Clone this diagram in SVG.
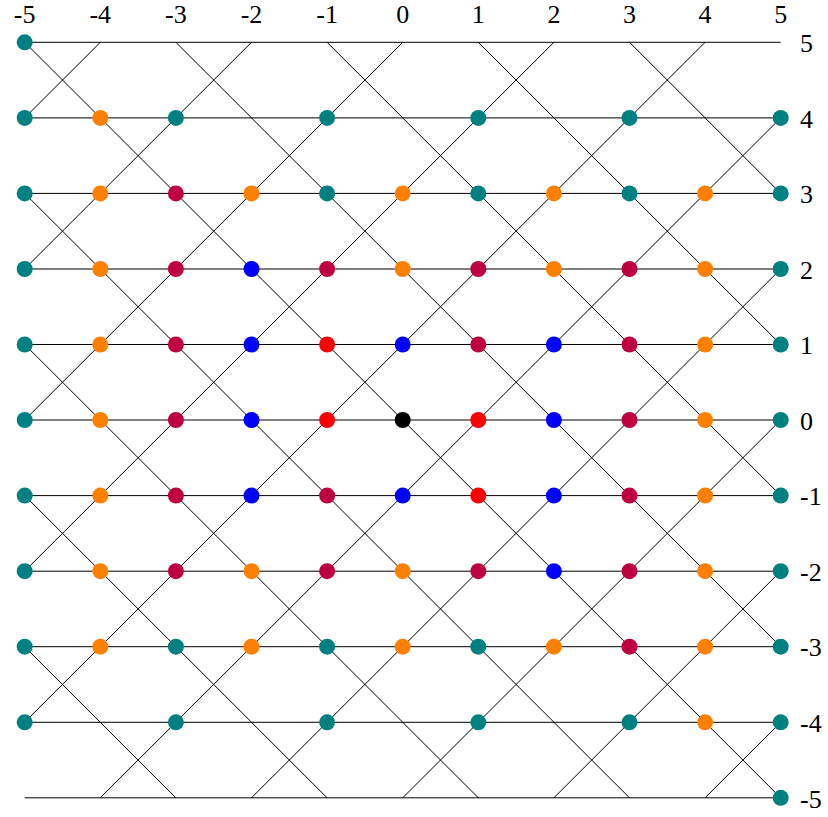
<svg xmlns="http://www.w3.org/2000/svg" xmlns:xlink="http://www.w3.org/1999/xlink" width="828" height="817" viewBox="0 0 828 817">
<style>
.ln{stroke:#000;stroke-width:1;fill:none}
.t{fill:#008080}.o{fill:#FF8000}.c{fill:#BF0040}.b{fill:#0000FF}.r{fill:#FF0000}.k{fill:#000}
text{font-family:"Liberation Serif","DejaVu Serif",serif;font-size:26px;fill:#000}
.top{text-anchor:middle}
</style>
<defs>
<path id="x" d="M0 0L75.6 75.5M75.6 0L0 75.5"/>
<circle id="d" r="8"/>
</defs>
<rect width="828" height="817" fill="#fff"/>
<g id="connectors" class="ln">
<path d="M24.7 42.3H780.7M24.7 117.9H780.7M24.7 193.4H780.7M24.7 269H780.7M24.7 344.5H780.7M24.7 420H780.7M24.7 495.6H780.7M24.7 571.2H780.7M24.7 646.7H780.7M24.7 722.3H780.7M24.7 797.8H780.7"/>
<use href="#x" x="24.7" y="42.3"/><use href="#x" x="175.9" y="42.3"/><use href="#x" x="327.1" y="42.3"/><use href="#x" x="478.3" y="42.3"/><use href="#x" x="629.5" y="42.3"/>
<use href="#x" x="100.3" y="117.9"/><use href="#x" x="251.5" y="117.9"/><use href="#x" x="402.7" y="117.9"/><use href="#x" x="553.9" y="117.9"/><use href="#x" x="705.1" y="117.9"/>
<use href="#x" x="24.7" y="193.4"/><use href="#x" x="175.9" y="193.4"/><use href="#x" x="327.1" y="193.4"/><use href="#x" x="478.3" y="193.4"/><use href="#x" x="629.5" y="193.4"/>
<use href="#x" x="100.3" y="269"/><use href="#x" x="251.5" y="269"/><use href="#x" x="402.7" y="269"/><use href="#x" x="553.9" y="269"/><use href="#x" x="705.1" y="269"/>
<use href="#x" x="24.7" y="344.5"/><use href="#x" x="175.9" y="344.5"/><use href="#x" x="327.1" y="344.5"/><use href="#x" x="478.3" y="344.5"/><use href="#x" x="629.5" y="344.5"/>
<use href="#x" x="100.3" y="420"/><use href="#x" x="251.5" y="420"/><use href="#x" x="402.7" y="420"/><use href="#x" x="553.9" y="420"/><use href="#x" x="705.1" y="420"/>
<use href="#x" x="24.7" y="495.6"/><use href="#x" x="175.9" y="495.6"/><use href="#x" x="327.1" y="495.6"/><use href="#x" x="478.3" y="495.6"/><use href="#x" x="629.5" y="495.6"/>
<use href="#x" x="100.3" y="571.2"/><use href="#x" x="251.5" y="571.2"/><use href="#x" x="402.7" y="571.2"/><use href="#x" x="553.9" y="571.2"/><use href="#x" x="705.1" y="571.2"/>
<use href="#x" x="24.7" y="646.7"/><use href="#x" x="175.9" y="646.7"/><use href="#x" x="327.1" y="646.7"/><use href="#x" x="478.3" y="646.7"/><use href="#x" x="629.5" y="646.7"/>
<use href="#x" x="100.3" y="722.3"/><use href="#x" x="251.5" y="722.3"/><use href="#x" x="402.7" y="722.3"/><use href="#x" x="553.9" y="722.3"/><use href="#x" x="705.1" y="722.3"/>
</g>
<g id="labels">
<text class="top" x="24.7" y="23">-5</text><text class="top" x="100.3" y="23">-4</text><text class="top" x="175.9" y="23">-3</text><text class="top" x="251.5" y="23">-2</text><text class="top" x="327.1" y="23">-1</text><text class="top" x="402.7" y="23">0</text><text class="top" x="478.3" y="23">1</text><text class="top" x="553.9" y="23">2</text><text class="top" x="629.5" y="23">3</text><text class="top" x="705.1" y="23">4</text><text class="top" x="780.7" y="23">5</text>
<text x="800" y="52">5</text><text x="800" y="127.6">4</text><text x="800" y="203.1">3</text><text x="800" y="278.7">2</text><text x="800" y="354.2">1</text><text x="800" y="429.7">0</text><text x="800" y="505.3">-1</text><text x="800" y="580.9">-2</text><text x="800" y="656.4">-3</text><text x="800" y="732">-4</text><text x="800" y="807.5">-5</text>
</g>
<g id="nodes">
<g id="n-5_5"><use href="#d" class="t" x="24.7" y="42.3"/></g>
<g id="n-5_4"><use href="#d" class="t" x="24.7" y="117.9"/></g>
<g id="n-4_4"><use href="#d" class="o" x="100.3" y="117.9"/></g>
<g id="n-3_4"><use href="#d" class="t" x="175.9" y="117.9"/></g>
<g id="n-1_4"><use href="#d" class="t" x="327.1" y="117.9"/></g>
<g id="n1_4"><use href="#d" class="t" x="478.3" y="117.9"/></g>
<g id="n3_4"><use href="#d" class="t" x="629.5" y="117.9"/></g>
<g id="n5_4"><use href="#d" class="t" x="780.7" y="117.9"/></g>
<g id="n-5_3"><use href="#d" class="t" x="24.7" y="193.4"/></g>
<g id="n-4_3"><use href="#d" class="o" x="100.3" y="193.4"/></g>
<g id="n-3_3"><use href="#d" class="c" x="175.9" y="193.4"/></g>
<g id="n-2_3"><use href="#d" class="o" x="251.5" y="193.4"/></g>
<g id="n-1_3"><use href="#d" class="t" x="327.1" y="193.4"/></g>
<g id="n0_3"><use href="#d" class="o" x="402.7" y="193.4"/></g>
<g id="n1_3"><use href="#d" class="t" x="478.3" y="193.4"/></g>
<g id="n2_3"><use href="#d" class="o" x="553.9" y="193.4"/></g>
<g id="n3_3"><use href="#d" class="t" x="629.5" y="193.4"/></g>
<g id="n4_3"><use href="#d" class="o" x="705.1" y="193.4"/></g>
<g id="n5_3"><use href="#d" class="t" x="780.7" y="193.4"/></g>
<g id="n-5_2"><use href="#d" class="t" x="24.7" y="269"/></g>
<g id="n-4_2"><use href="#d" class="o" x="100.3" y="269"/></g>
<g id="n-3_2"><use href="#d" class="c" x="175.9" y="269"/></g>
<g id="n-2_2"><use href="#d" class="b" x="251.5" y="269"/></g>
<g id="n-1_2"><use href="#d" class="c" x="327.1" y="269"/></g>
<g id="n0_2"><use href="#d" class="o" x="402.7" y="269"/></g>
<g id="n1_2"><use href="#d" class="c" x="478.3" y="269"/></g>
<g id="n2_2"><use href="#d" class="o" x="553.9" y="269"/></g>
<g id="n3_2"><use href="#d" class="c" x="629.5" y="269"/></g>
<g id="n4_2"><use href="#d" class="o" x="705.1" y="269"/></g>
<g id="n5_2"><use href="#d" class="t" x="780.7" y="269"/></g>
<g id="n-5_1"><use href="#d" class="t" x="24.7" y="344.5"/></g>
<g id="n-4_1"><use href="#d" class="o" x="100.3" y="344.5"/></g>
<g id="n-3_1"><use href="#d" class="c" x="175.9" y="344.5"/></g>
<g id="n-2_1"><use href="#d" class="b" x="251.5" y="344.5"/></g>
<g id="n-1_1"><use href="#d" class="r" x="327.1" y="344.5"/></g>
<g id="n0_1"><use href="#d" class="b" x="402.7" y="344.5"/></g>
<g id="n1_1"><use href="#d" class="c" x="478.3" y="344.5"/></g>
<g id="n2_1"><use href="#d" class="b" x="553.9" y="344.5"/></g>
<g id="n3_1"><use href="#d" class="c" x="629.5" y="344.5"/></g>
<g id="n4_1"><use href="#d" class="o" x="705.1" y="344.5"/></g>
<g id="n5_1"><use href="#d" class="t" x="780.7" y="344.5"/></g>
<g id="n-5_0"><use href="#d" class="t" x="24.7" y="420"/></g>
<g id="n-4_0"><use href="#d" class="o" x="100.3" y="420"/></g>
<g id="n-3_0"><use href="#d" class="c" x="175.9" y="420"/></g>
<g id="n-2_0"><use href="#d" class="b" x="251.5" y="420"/></g>
<g id="n-1_0"><use href="#d" class="r" x="327.1" y="420"/></g>
<g id="n0_0"><use href="#d" class="k" x="402.7" y="420"/></g>
<g id="n1_0"><use href="#d" class="r" x="478.3" y="420"/></g>
<g id="n2_0"><use href="#d" class="b" x="553.9" y="420"/></g>
<g id="n3_0"><use href="#d" class="c" x="629.5" y="420"/></g>
<g id="n4_0"><use href="#d" class="o" x="705.1" y="420"/></g>
<g id="n5_0"><use href="#d" class="t" x="780.7" y="420"/></g>
<g id="n-5_-1"><use href="#d" class="t" x="24.7" y="495.6"/></g>
<g id="n-4_-1"><use href="#d" class="o" x="100.3" y="495.6"/></g>
<g id="n-3_-1"><use href="#d" class="c" x="175.9" y="495.6"/></g>
<g id="n-2_-1"><use href="#d" class="b" x="251.5" y="495.6"/></g>
<g id="n-1_-1"><use href="#d" class="c" x="327.1" y="495.6"/></g>
<g id="n0_-1"><use href="#d" class="b" x="402.7" y="495.6"/></g>
<g id="n1_-1"><use href="#d" class="r" x="478.3" y="495.6"/></g>
<g id="n2_-1"><use href="#d" class="b" x="553.9" y="495.6"/></g>
<g id="n3_-1"><use href="#d" class="c" x="629.5" y="495.6"/></g>
<g id="n4_-1"><use href="#d" class="o" x="705.1" y="495.6"/></g>
<g id="n5_-1"><use href="#d" class="t" x="780.7" y="495.6"/></g>
<g id="n-5_-2"><use href="#d" class="t" x="24.7" y="571.2"/></g>
<g id="n-4_-2"><use href="#d" class="o" x="100.3" y="571.2"/></g>
<g id="n-3_-2"><use href="#d" class="c" x="175.9" y="571.2"/></g>
<g id="n-2_-2"><use href="#d" class="o" x="251.5" y="571.2"/></g>
<g id="n-1_-2"><use href="#d" class="c" x="327.1" y="571.2"/></g>
<g id="n0_-2"><use href="#d" class="o" x="402.7" y="571.2"/></g>
<g id="n1_-2"><use href="#d" class="c" x="478.3" y="571.2"/></g>
<g id="n2_-2"><use href="#d" class="b" x="553.9" y="571.2"/></g>
<g id="n3_-2"><use href="#d" class="c" x="629.5" y="571.2"/></g>
<g id="n4_-2"><use href="#d" class="o" x="705.1" y="571.2"/></g>
<g id="n5_-2"><use href="#d" class="t" x="780.7" y="571.2"/></g>
<g id="n-5_-3"><use href="#d" class="t" x="24.7" y="646.7"/></g>
<g id="n-4_-3"><use href="#d" class="o" x="100.3" y="646.7"/></g>
<g id="n-3_-3"><use href="#d" class="t" x="175.9" y="646.7"/></g>
<g id="n-2_-3"><use href="#d" class="o" x="251.5" y="646.7"/></g>
<g id="n-1_-3"><use href="#d" class="t" x="327.1" y="646.7"/></g>
<g id="n0_-3"><use href="#d" class="o" x="402.7" y="646.7"/></g>
<g id="n1_-3"><use href="#d" class="t" x="478.3" y="646.7"/></g>
<g id="n2_-3"><use href="#d" class="o" x="553.9" y="646.7"/></g>
<g id="n3_-3"><use href="#d" class="c" x="629.5" y="646.7"/></g>
<g id="n4_-3"><use href="#d" class="o" x="705.1" y="646.7"/></g>
<g id="n5_-3"><use href="#d" class="t" x="780.7" y="646.7"/></g>
<g id="n-5_-4"><use href="#d" class="t" x="24.7" y="722.3"/></g>
<g id="n-3_-4"><use href="#d" class="t" x="175.9" y="722.3"/></g>
<g id="n-1_-4"><use href="#d" class="t" x="327.1" y="722.3"/></g>
<g id="n1_-4"><use href="#d" class="t" x="478.3" y="722.3"/></g>
<g id="n3_-4"><use href="#d" class="t" x="629.5" y="722.3"/></g>
<g id="n4_-4"><use href="#d" class="o" x="705.1" y="722.3"/></g>
<g id="n5_-4"><use href="#d" class="t" x="780.7" y="722.3"/></g>
<g id="n5_-5"><use href="#d" class="t" x="780.7" y="797.8"/></g>
</g>
</svg>
